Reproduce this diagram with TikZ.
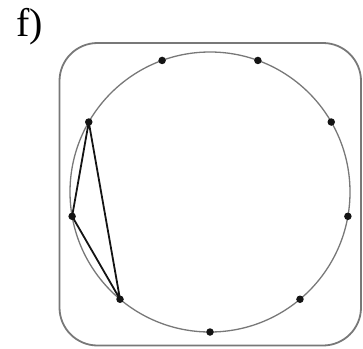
\documentclass[tikz,border=0pt]{standalone}
\usepackage{fontspec}
\setmainfont{Liberation Serif}
\usepackage{tikz}
\usetikzlibrary{positioning,calc}
\definecolor{rim}{RGB}{120,120,120}
\definecolor{ink}{RGB}{20,20,20}
\tikzset{
  frame/.style={draw=rim,line width=1.8pt,rounded corners=38pt},
  ring/.style={draw=rim,line width=1.3pt},
  vertex/.style={circle,fill=ink,inner sep=0pt,minimum size=7.5pt},
  chord/.style={draw=ink,line width=1.8pt,line join=round}
}

\begin{document}
\begin{tikzpicture}[x=1pt,y=-1pt]
    \useasboundingbox (0,0) rectangle (363,348);
    \node[anchor=base west,inner sep=0pt,font=\fontsize{40}{44}\selectfont] (lbl) at (16,36) {f)};
    \draw[frame] (59.5,43) rectangle (361,345.5);
    \coordinate (c) at (210,192);
    \draw[ring] (c) circle[radius=140];
    % nine vertices, 40 degrees apart
    \foreach \i in {0,...,8}{
      \node[vertex] (p\i) at ($(c)+({-90+40*\i}:140 and -140)$) {};
    }
    \draw[chord] (p6.center) -- (p7.center) -- (p8.center) -- cycle;
  \end{tikzpicture}
\end{document}
